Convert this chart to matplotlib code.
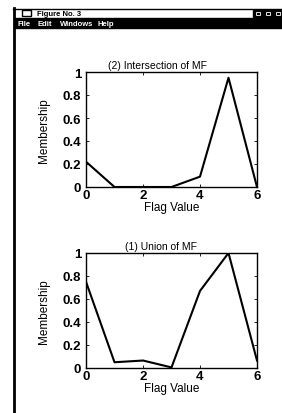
import matplotlib
matplotlib.use("Agg")
import matplotlib.pyplot as plt
from matplotlib.patches import Rectangle
from matplotlib.lines import Line2D

plt.rcParams['font.family'] = ['Liberation Sans', 'DejaVu Sans']

flag_values = [0, 1, 2, 3, 4, 5, 6]
intersection_mf = [0.22, 0.0, 0.0, 0.0, 0.09, 0.95, 0.0]
union_mf = [0.75, 0.05, 0.065, 0.005, 0.67, 1.0, 0.065]
x_ticks = [0, 2, 4, 6]
y_ticks = [0, 0.2, 0.4, 0.6, 0.8, 1]
y_tick_labels = ['0', '0.2', '0.4', '0.6', '0.8', '1']
titles = ['(2) Intersection of MF', '(1) Union of MF']
window_title = 'Figure No. 3'
menu_items = ['File', 'Edit', 'Windows', 'Help']

W, H = 282, 414
fig = plt.figure(figsize=(W / 100, H / 100), dpi=100)
fig.patch.set_facecolor('white')

def fx(px):
    return px / W

def fy(py):
    return 1 - py / H

# window frame
fig.add_artist(Line2D([fx(14), fx(14)], [fy(9), fy(414)], color='black', lw=2.0))
fig.add_artist(Line2D([fx(13), fx(282)], [fy(9.5), fy(9.5)], color='black', lw=1.0))
# menu bar
fig.add_artist(Rectangle((fx(14), fy(29)), fx(282) - fx(14), fy(19) - fy(29),
                         color='black', transform=fig.transFigure))
# title bar icon
fig.add_artist(Rectangle((fx(22), fy(17)), fx(9), fy(11) - fy(17), fill=False,
                         ec='black', lw=1.0, transform=fig.transFigure))
fig.text(fx(37), fy(14), window_title, fontsize=5.5, fontweight='bold',
         va='center', ha='left', color='black')
# window buttons
for bx in [253, 263, 273]:
    fig.add_artist(Rectangle((fx(bx), fy(18)), fx(9), fy(10.5) - fy(18),
                             color='black', transform=fig.transFigure))
    fig.add_artist(Rectangle((fx(bx + 2.5), fy(15.5)), fx(4), fy(12.5) - fy(15.5),
                             fill=False, ec='white', lw=0.6, transform=fig.transFigure))
# menu items
menu_x = [17, 38, 60, 97]
for mx, item in zip(menu_x, menu_items):
    fig.text(fx(mx), fy(24), item, fontsize=5.5, fontweight='bold',
             color='white', va='center', ha='left')

axes_rects = [(86, 73, 257, 188), (86, 254, 257, 369)]
title_x = [0.42, 0.44]
series = [intersection_mf, union_mf]
for (l, t, r, b), vals, title, tx in zip(axes_rects, series, titles, title_x):
    ax = fig.add_axes([fx(l), fy(b), fx(r) - fx(l), fy(t) - fy(b)])
    ax.plot(flag_values, vals, color='black', lw=1.5)
    ax.set_xlim(0, 6)
    ax.set_ylim(0, 1)
    ax.set_xticks(x_ticks)
    ax.set_xticklabels([str(v) for v in x_ticks], fontsize=9.5, fontweight='bold')
    ax.set_yticks(y_ticks)
    ax.set_yticklabels(y_tick_labels, fontsize=9.5, fontweight='bold')
    ax.tick_params(direction='in', length=2.5, width=0.6, top=True, right=True)
    ax.tick_params(axis='x', pad=1.5)
    ax.tick_params(axis='y', pad=3.5)
    for s in ax.spines.values():
        s.set_linewidth(1.0)
    ax.set_title(title, fontsize=7.5, pad=3, x=tx)
    ax.set_xlabel('Flag Value', fontsize=8.5)
    ax.set_ylabel('Membership', fontsize=8.5)
    ax.xaxis.set_label_coords(0.5, -14 / 115)
    ax.yaxis.set_label_coords(-36 / 171, 0.5)

fig.savefig('out.png', dpi=100, facecolor='white')
